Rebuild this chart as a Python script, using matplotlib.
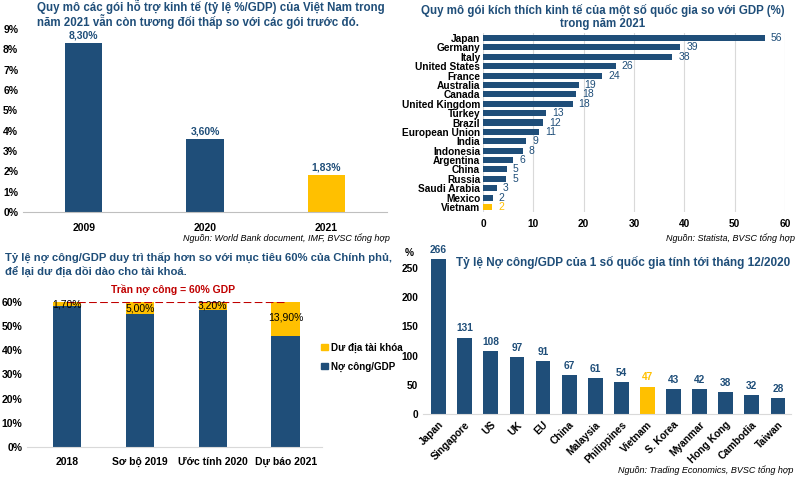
import matplotlib
matplotlib.use("Agg")
import matplotlib.pyplot as plt
from matplotlib.patches import Patch

plt.rcParams['font.family'] = ['Liberation Sans', 'DejaVu Sans']

BLUE = '#1F4E79'
GOLD = '#FFC000'
RED = '#C00000'

# panel 1 - goi ho tro Viet Nam
p1_years = ['2009', '2020', '2021']
p1_values = [8.30, 3.60, 1.83]

# panel 2 - goi kich thich 2021
p2_countries = ['Japan', 'Germany', 'Italy', 'United States', 'France', 'Australia',
                'Canada', 'United Kingdom', 'Turkey', 'Brazil', 'European Union',
                'India', 'Indonesia', 'Argentina', 'China', 'Russia', 'Saudi Arabia',
                'Mexico', 'Vietnam']
p2_values = [56, 39.2, 37.6, 26.4, 23.7, 19.0, 18.5, 17.8, 12.6, 12.0, 11.1,
             8.6, 7.9, 6.0, 4.7, 4.6, 2.8, 1.9, 1.8]

# panel 3 - no cong / GDP
p3_labels = ['2018', 'Sơ bộ 2019', 'Ước tính 2020', 'Dự báo 2021']
p3_debt = [58.3, 55.0, 56.8, 46.1]
p3_room = [1.7, 5.0, 3.2, 13.9]

# panel 4 - no cong cac nuoc
p4_countries = ['Japan', 'Singapore', 'US', 'UK', 'EU', 'China', 'Malaysia',
                'Philippines', 'Vietnam', 'S. Korea', 'Myanmar', 'Hong Kong',
                'Cambodia', 'Taiwan']
p4_values = [266, 131, 108, 97, 91, 67, 61, 54, 47, 43, 42, 38, 32, 28]

W, H = 800, 478
fig = plt.figure(figsize=(8, 4.78), dpi=100)


def box(x0, y_top, w, h):
    # pixel box -> figure fraction
    return [x0 / W, (H - y_top - h) / H, w / W, h / H]


def pct(v):
    return ('%.2f%%' % v).replace('.', ',')


# ---------- panel 1 ----------
ax1 = fig.add_axes(box(23, 29, 364, 183))
cols = [BLUE, BLUE, GOLD]
ax1.bar(range(3), p1_values, width=0.31, color=cols)
for i, v in enumerate(p1_values):
    ax1.text(i, v + 0.13, pct(v), ha='center', va='bottom', fontsize=7.5,
             color=BLUE, fontweight='bold')
ax1.set_xlim(-0.5, 2.5)
ax1.set_ylim(0, 9)
ax1.set_yticks(range(10))
ax1.set_yticklabels(['%d%%' % t for t in range(10)])
ax1.set_xticks(range(3))
ax1.set_xticklabels(p1_years)
for s in ['top', 'right', 'left']:
    ax1.spines[s].set_visible(False)
ax1.spines['bottom'].set_color('#BFBFBF')
ax1.tick_params(length=0, labelsize=7.5)
ax1.tick_params(axis='x', pad=8)
for t in ax1.get_xticklabels() + ax1.get_yticklabels():
    t.set_fontweight('bold')
fig.text(37 / W, 1 - 14 / H, 'Quy mô các gói hỗ trợ kinh tế (tỷ lệ %/GDP) của Việt Nam trong\n'
         'năm 2021 vẫn còn tương đối thấp so với các gói trước đó.',
         ha='left', va='center', fontsize=8.3, fontweight='bold', color=BLUE,
         linespacing=1.05)
fig.text(390 / W, 1 - 238 / H, 'Nguồn: World Bank document, IMF, BVSC tổng hợp',
         ha='right', va='center', fontsize=6.5, style='italic')

# ---------- panel 2 ----------
ax2 = fig.add_axes(box(483, 33.3, 302, 178.4))
n2 = len(p2_countries)
cols2 = [BLUE] * (n2 - 1) + [GOLD]
ax2.barh(range(n2), p2_values, height=0.64, color=cols2, zorder=3)
for i, v in enumerate(p2_values):
    ax2.text(v + 1.2, i, '%.0f' % v, ha='left', va='center', fontsize=7.5,
             color=cols2[i] if i == n2 - 1 else BLUE, zorder=4)
ax2.set_ylim(n2 - 0.5, -0.5)
ax2.set_xlim(0, 60)
ax2.set_xticks(range(0, 61, 10))
ax2.set_yticks(range(n2))
ax2.set_yticklabels(p2_countries)
ax2.grid(axis='x', color='#D9D9D9', linewidth=0.8, zorder=0)
for s in ax2.spines.values():
    s.set_visible(False)
ax2.tick_params(length=0, labelsize=7.3)
ax2.tick_params(axis='x', pad=5)
ax2.tick_params(axis='y', pad=2)
for t in ax2.get_xticklabels() + ax2.get_yticklabels():
    t.set_fontweight('bold')
fig.text(603 / W, 1 - 17 / H, 'Quy mô gói kích thích kinh tế của một số quốc gia so với GDP (%)\n'
         'trong năm 2021', ha='center', va='center', fontsize=8.3,
         fontweight='bold', color=BLUE, linespacing=1.15)
fig.text(795 / W, 1 - 238 / H, 'Nguồn: Statista, BVSC tổng hợp',
         ha='right', va='center', fontsize=6.5, style='italic')

# ---------- panel 3 ----------
ax3 = fig.add_axes(box(27, 302, 295, 145))
x3 = range(len(p3_labels))
ax3.bar(x3, p3_debt, width=0.39, color=BLUE, label='Nợ công/GDP')
ax3.bar(x3, p3_room, bottom=p3_debt, width=0.39, color=GOLD, label='Dư địa tài khóa')
for i in x3:
    if p3_room[i] > 10:
        yy = p3_debt[i] + p3_room[i] * 0.55
    else:
        yy = p3_debt[i] + p3_room[i] / 2
    ax3.text(i, yy, pct(p3_room[i]), ha='center', va='center', fontsize=7.5,
             color='black', zorder=6)
ax3.plot([0, 3], [60, 60], color=RED, linestyle='--', linewidth=1.5, zorder=5)
ax3.text(1.45, 65, 'Trần nợ công = 60% GDP', ha='center', va='center',
         fontsize=7.5, color=RED, fontweight='bold')
ax3.set_xlim(-0.55, 3.5)
ax3.set_ylim(0, 60)
ax3.set_yticks(range(0, 61, 10))
ax3.set_yticklabels(['%d%%' % t for t in range(0, 61, 10)])
ax3.set_xticks(list(x3))
ax3.set_xticklabels(p3_labels)
for s in ['top', 'right', 'left']:
    ax3.spines[s].set_visible(False)
ax3.spines['bottom'].set_color('#D9D9D9')
ax3.tick_params(length=0, labelsize=7.5)
ax3.tick_params(axis='x', pad=7)
for t in ax3.get_xticklabels() + ax3.get_yticklabels():
    t.set_fontweight('bold')
handles = [Patch(color=GOLD), Patch(color=BLUE)]
leg = fig.legend(handles, ['Dư địa tài khóa', 'Nợ công/GDP'], loc='center left',
                 bbox_to_anchor=(312 / W, 1 - 357 / H), frameon=False,
                 fontsize=7.1, handlelength=0.7, handleheight=0.7,
                 handletextpad=0.3, labelspacing=0.9)
for t in leg.get_texts():
    t.set_fontweight('bold')
fig.text(5 / W, 1 - 265 / H, 'Tỷ lệ nợ công/GDP duy trì thấp hơn so với mục tiêu 60% của Chính phủ,\n'
         'để lại dư địa dồi dào cho tài khoá.', ha='left', va='center',
         fontsize=8.1, fontweight='bold', color=BLUE, linespacing=1.15)

# ---------- panel 4 ----------
ax4 = fig.add_axes(box(423, 250.5, 368, 163.5))
n4 = len(p4_countries)
cols4 = [GOLD if c == 'Vietnam' else BLUE for c in p4_countries]
ax4.bar(range(n4), p4_values, width=0.57, color=cols4)
for i, v in enumerate(p4_values):
    ax4.text(i, v + 7, '%d' % v, ha='center', va='bottom', fontsize=7.3,
             color=cols4[i], fontweight='bold')
ax4.set_xlim(-0.6, n4 - 0.5)
ax4.set_ylim(0, 280)
ax4.set_yticks(range(0, 251, 50))
ax4.set_xticks(range(n4))
ax4.set_xticklabels(p4_countries, rotation=45, ha='right', rotation_mode='anchor')
for s in ['top', 'right', 'left']:
    ax4.spines[s].set_visible(False)
ax4.spines['bottom'].set_color('#D9D9D9')
ax4.tick_params(length=0, labelsize=7.3)
ax4.tick_params(axis='x', pad=4)
for t in ax4.get_xticklabels() + ax4.get_yticklabels():
    t.set_fontweight('bold')
fig.text(405 / W, 1 - 253 / H, '%', ha='left', va='center', fontsize=7.3,
         fontweight='bold')
fig.text(623 / W, 1 - 262 / H, 'Tỷ lệ Nợ công/GDP của 1 số quốc gia tính tới tháng 12/2020',
         ha='center', va='center', fontsize=8.5, fontweight='bold', color=BLUE)
fig.text(793 / W, 1 - 470 / H, 'Nguồn: Trading Economics, BVSC tổng hợp',
         ha='right', va='center', fontsize=6.5, style='italic')

fig.savefig('out.png', dpi=100)
